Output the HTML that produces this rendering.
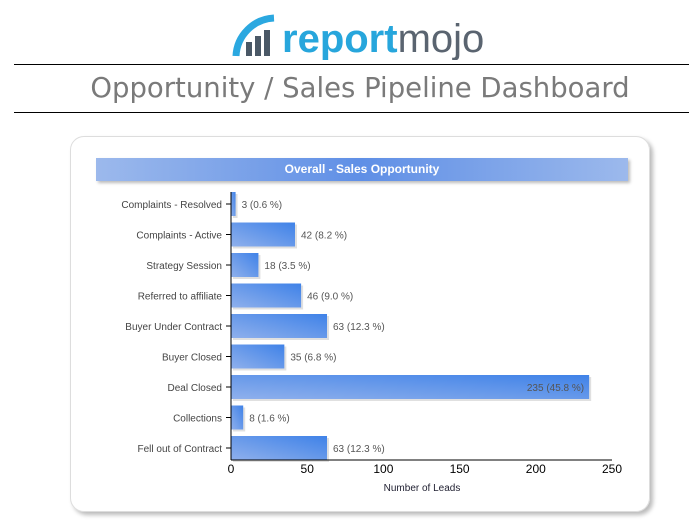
<!DOCTYPE html>
<html><head><meta charset="utf-8"><style>
body{margin:0;width:689px;height:521px;background:#fff;font-family:"Liberation Sans",sans-serif;position:relative;overflow:hidden}
.abs{position:absolute}
</style></head><body>
<div class="abs" style="left:230px;top:12px;width:270px;height:48px">
<svg width="270" height="48">
<path d="M6 44 A40 40 0 0 1 44 6" stroke="#2ba8e0" stroke-width="7" fill="none"/>
<rect x="16" y="30" width="6" height="14" fill="#4a5866"/><rect x="25" y="24" width="6" height="20" fill="#4a5866"/><rect x="34" y="18" width="6" height="26" fill="#4a5866"/>
<text x="52" y="40" font-family="Liberation Sans,sans-serif" font-size="40" fill="#27a6dc" font-weight="bold">report<tspan fill="#5a6470" font-weight="normal">mojo</tspan></text>
</svg></div>
<div class="abs" style="left:14px;top:64px;width:675px;height:1px;background:#000"></div>
<div class="abs" style="left:0;width:720px;top:72px;text-align:center;font-size:27.5px;color:#7a7a7a;font-family:'DejaVu Sans',sans-serif">Opportunity / Sales Pipeline Dashboard</div>
<div class="abs" style="left:14px;top:112px;width:675px;height:1px;background:#000"></div>
<div class="abs" style="left:70px;top:136px;width:578px;height:374px;border:1px solid #ddd;border-radius:14px;box-shadow:3px 3px 4px #bbb"></div>
<div class="abs" style="left:96px;top:158px;width:532px;height:23px;background:linear-gradient(90deg,#9cb9ec,#5f8fe6 50%,#9cb9ec);color:#fff;font-weight:bold;font-size:12px;text-align:center;line-height:23px;box-shadow:2px 2px 3px #bbb">Overall - Sales Opportunity</div>
<svg id="c" class="abs" style="left:0;top:0" width="689" height="521">
<defs><linearGradient id="g" x1="0" y1="1" x2="1" y2="0"><stop offset="0" stop-color="#8fb0ec"/><stop offset="1" stop-color="#3f82e8"/></linearGradient></defs>
</svg>
<script>
const categories=["Complaints - Resolved","Complaints - Active","Strategy Session","Referred to affiliate","Buyer Under Contract","Buyer Closed","Deal Closed","Collections","Fell out of Contract"];
const values=[3,42,18,46,63,35,235,8,63];
const percents=["0.6","8.2","3.5","9.0","12.3","6.8","45.8","1.6","12.3"];
const ticks=[0,50,100,150,200,250];
const svg=document.getElementById('c'),NS='http://www.w3.org/2000/svg';
const x=v=>231+v*(612-231)/250, y=i=>204+i*30.5;
function mk(t,a,txt){const e=document.createElementNS(NS,t);for(const k in a)e.setAttribute(k,a[k]);if(txt!=null)e.textContent=txt;svg.appendChild(e);return e;}
categories.forEach((c,i)=>{
 const s=mk('rect',{x:x(0)+2,y:y(i)-10,width:x(values[i])-x(0),height:24,fill:'#ccc',opacity:.6});
 
 const b=mk('rect',{x:x(0),y:y(i)-12,width:x(values[i])-x(0),height:24,fill:'url(#g)'});
 
 const l=mk('text',{x:222,y:y(i)+4,'text-anchor':'end','font-size':10,fill:'#444'},c);
 
 const tk=mk('line',{x1:226,x2:231,y1:y(i),y2:y(i),stroke:'#000'});
 
 const inside=values[i]>200;
 const v=mk('text',{x:inside?x(values[i])-5:x(values[i])+6,y:y(i)+4,'text-anchor':inside?'end':'start','font-size':10,fill:'#555'},values[i]+' ('+percents[i]+' %)');
 
});
let a=mk('line',{x1:231,x2:231,y1:192,y2:460,stroke:'#000'});

a=mk('line',{x1:231,x2:612,y1:460,y2:460,stroke:'#000'});

ticks.forEach(t=>{const e=mk('text',{x:x(t),y:473,'text-anchor':'middle','font-size':12,fill:'#000'},t);
 });
a=mk('text',{x:422,y:491,'text-anchor':'middle','font-size':10,fill:'#223'},'Number of Leads');

</script>
</body></html>
